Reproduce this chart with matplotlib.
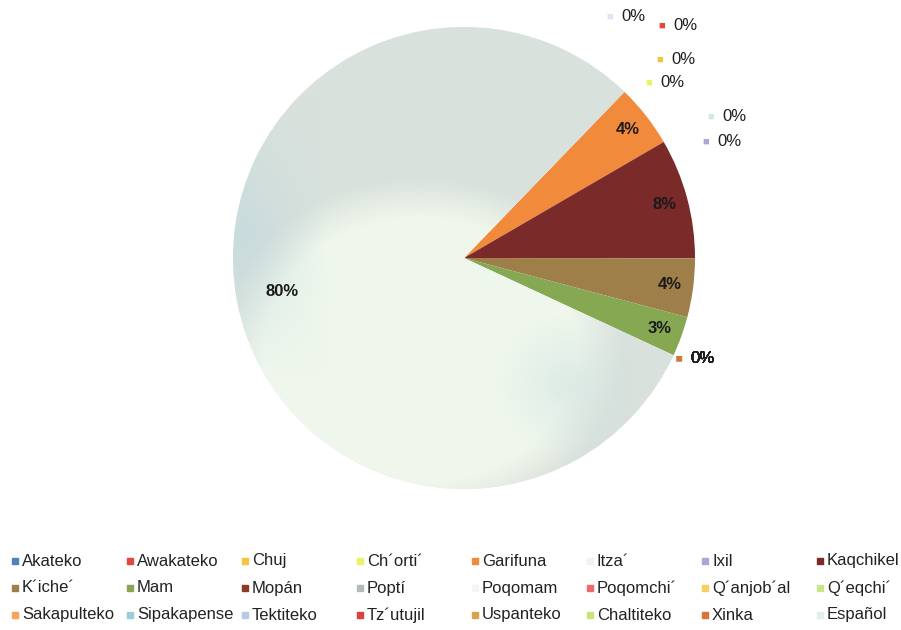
import matplotlib
matplotlib.use('Agg')
import matplotlib.pyplot as plt
from matplotlib.patches import Rectangle
from matplotlib.colors import to_rgb
import numpy as np

plt.rcParams['font.family'] = ['Liberation Sans', 'DejaVu Sans']

# languages in series order (legend reads row by row)
languages = ['Akateko', 'Awakateko', 'Chuj', 'Ch´orti´', 'Garifuna', 'Itza´', 'Ixil', 'Kaqchikel',
             'K´iche´', 'Mam', 'Mopán', 'Poptí', 'Poqomam', 'Poqomchi´', 'Q´anjob´al', 'Q´eqchi´',
             'Sakapulteko', 'Sipakapense', 'Tektiteko', 'Tz´utujil', 'Uspanteko', 'Chaltiteko', 'Xinka', 'Español']
# share in percent
shares = [0, 0, 0, 0, 4.4, 0, 0, 8.4,
          4.1, 2.8, 0, 0, 0, 0, 0, 0,
          0, 0, 0, 0, 0, 0, 0, 80.3]
colors = ['#4f81bd', '#e0483c', '#f5c342', '#eaf266', '#f28a3c', '#f2f2f2', '#a9a9cf', '#7b2a2a',
          '#9e7f4a', '#86a852', '#8b3a26', '#b3bcb3', '#f5f5f5', '#ee6a6a', '#f9cf62', '#c7e58a',
          '#f7a35c', '#9ccbdc', '#b9c8e6', '#d9433b', '#d8a24e', '#c6e37c', '#d9733a', '#e4eee8']
label_colors = list(colors)
label_colors[0] = '#dfe3f2'
label_colors[5] = '#cfeadf'

W, H = 901, 630
cx, cy, R = 464, 258, 231   # pie centre / radius in pixels

fig = plt.figure(figsize=(W / 100, H / 100), dpi=100)
ax = fig.add_axes([0, 0, 1, 1])
wedges, _ = ax.pie(shares, colors=colors, startangle=46, counterclock=False,
                   wedgeprops=dict(linewidth=0))

# the scanned Español slice is not flat: greyish on top, pale below, bluish at the rims
gx, gy = np.meshgrid(np.linspace(-1, 1, 300), np.linspace(-1, 1, 300))
top = np.array(to_rgb('#d9e1dc'))
pale = np.array(to_rgb('#eff7ec'))
blue = np.array(to_rgb('#c2d9dc'))
d = np.sqrt(((gx + 0.19) / 0.8) ** 2 + ((gy + 0.4) / 0.68) ** 2)
t = np.clip((1.1 - d) / 0.25, 0, 1)[..., None]
img = top * (1 - t) + pale * t
b = np.clip((-gx - 0.6) / 0.35, 0, 1) * np.clip(1 - np.abs(gy - 0.1) / 0.6, 0, 1)
b2 = np.clip(1 - np.sqrt(((gx - 0.45) / 0.3) ** 2 + ((gy + 0.55) / 0.3) ** 2), 0, 1) * 0.6
bb = np.maximum(b, b2)[..., None] * 0.7
img = img * (1 - bb) + blue * bb
im = ax.imshow(img, extent=(-1, 1, -1, 1), origin='lower', zorder=1.5, interpolation='bilinear')
im.set_clip_path(wedges[-1])
ax.set_xlim(-cx / R, (W - cx) / R)
ax.set_ylim(-(H - cy) / R, cy / R)
ax.set_aspect('equal')
ax.axis('off')

# zero-valued labels get pushed out by hand (pixel offsets from slice edge)
zero_offsets = {
    'Akateko': (9, 75), 'Awakateko': (61, 66), 'Chuj': (59, 32), 'Ch´orti´': (48, 9),
    'Itza´': (71, 25), 'Ixil': (66, 0),
}
rest_offset = (29, -3)

for w, name, val, lc in zip(wedges, languages, shares, label_colors):
    mid = np.deg2rad((w.theta1 + w.theta2) / 2)
    if val > 0:
        r = 0.8 if name == 'Español' else 0.9
        ax.text(r * np.cos(mid), r * np.sin(mid), f'{val:.0f}%', ha='center', va='center',
                fontsize=12, fontweight='bold', color='#1a1a1a', zorder=3)
    else:
        ang = np.deg2rad(w.theta1)
        edge = (np.cos(ang), np.sin(ang))
        ox, oy = zero_offsets.get(name, rest_offset)
        ax.annotate('0%', xy=edge, xytext=(ox, oy), textcoords='offset pixels',
                    ha='center', va='center', fontsize=12, color='#1f1f1f')
        ax.annotate('■', xy=edge, xytext=(ox - 24, oy), textcoords='offset pixels',
                    ha='center', va='center', fontsize=8, color=lc)

# legend: 3 rows x 8 columns, evenly spaced like the original
for i, (name, c) in enumerate(zip(languages, colors)):
    row, col = divmod(i, 8)
    x = 12 + col * 115
    y = 561 + row * 27
    fig.patches.append(Rectangle((x / W, 1 - (y + 3) / H), 6 / W, 6 / H,
                                 transform=fig.transFigure, color=c, zorder=3))
    fig.text((x + 10) / W, 1 - y / H, name, ha='left', va='center',
             fontsize=12, color='#222222')

fig.savefig('out.png', dpi=100, facecolor='white')
